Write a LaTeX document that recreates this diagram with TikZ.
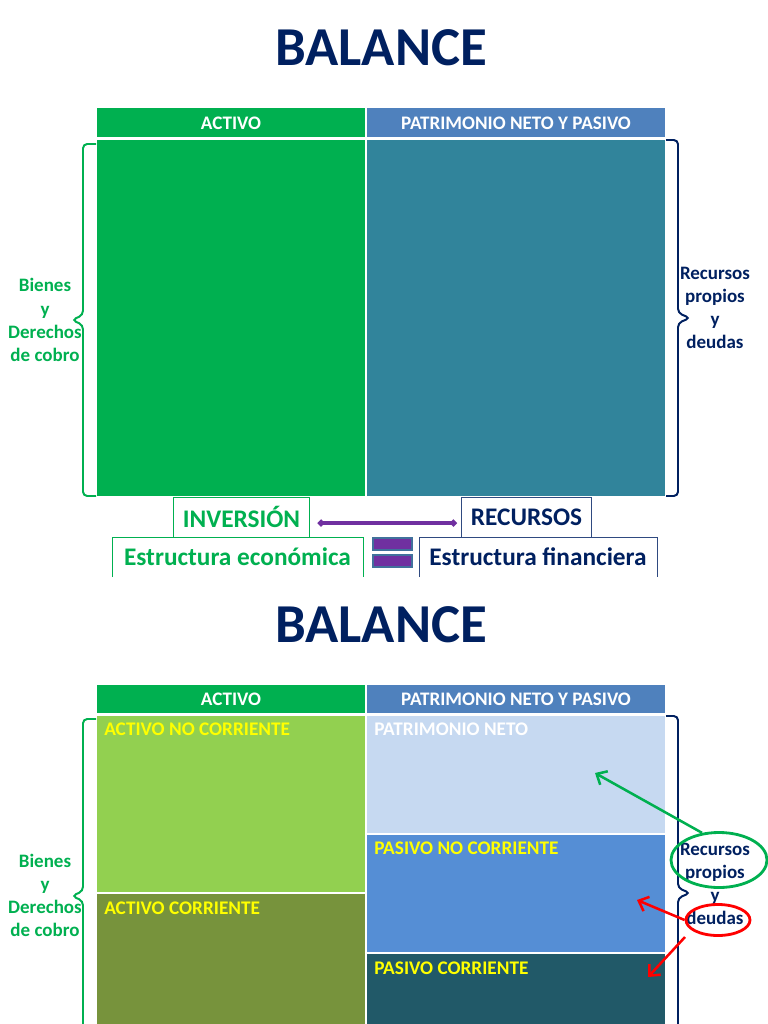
\documentclass[tikz,border=0pt]{standalone}
\usepackage{fontspec}
\setmainfont{Carlito}
\usetikzlibrary{arrows.meta,shapes.geometric}

\definecolor{verde}{HTML}{00B050}
\definecolor{azul}{HTML}{002060}
\definecolor{azulcab}{HTML}{4F81BD}
\definecolor{azulborde}{HTML}{2F4A80}
\definecolor{turquesa}{HTML}{31849B}
\definecolor{verdeclaro}{HTML}{92D050}
\definecolor{oliva}{HTML}{77933C}
\definecolor{celeste}{HTML}{C6D9F1}
\definecolor{azulmedio}{HTML}{558ED5}
\definecolor{petroleo}{HTML}{215968}
\definecolor{morado}{HTML}{7030A0}
\definecolor{bordeigual}{HTML}{41719C}
\definecolor{amarillo}{HTML}{FFFF00}
\definecolor{rojo}{HTML}{FF0000}

\tikzset{
  titulo/.style={font=\fontsize{39}{44}\selectfont\bfseries, text=azul},
  cabecera/.style={font=\fontsize{13.6}{15}\selectfont\bfseries, text=white},
  lado/.style={font=\fontsize{13.5}{16.4}\selectfont\bfseries, align=center},
  etiqueta/.style={font=\fontsize{13.7}{15}\selectfont\bfseries, anchor=west, inner sep=0pt},
  grande/.style={font=\fontsize{18}{21}\selectfont\bfseries},
  caja/.style={grande, fill=white, line width=0.7pt, minimum height=1cm, inner sep=0pt},
  llave/.style={line width=1.4pt, rounded corners=3pt},
  enlace/.style={morado, line width=2.4pt, {Circle[length=4.5pt]}-{Circle[length=4.5pt]}},
  flecha/.style={line width=1.8pt, -{Straight Barb[length=6pt,width=11pt]}},
  aro/.style={ellipse, line width=2pt, inner sep=0pt}
}

\begin{document}
\begin{tikzpicture}[x=0.025cm,y=-0.025cm]
\useasboundingbox (0,0) rectangle (768,1024);
\clip (0,0) rectangle (768,1024);

% ---------- primer balance
\node[titulo] (tit1) at (381,48) {BALANCE};
\fill[verde] (97,108) rectangle (365,137);
\fill[azulcab] (367,108) rectangle (665,137);
\node[cabecera] (act1) at (231,123) {ACTIVO};
\node[cabecera] (pnp1) at (516,123) {PATRIMONIO NETO Y PASIVO};
\fill[verde] (97,140) rectangle (365,496);
\fill[turquesa] (367,140) rectangle (665,496);

% llaves
\draw[llave, verde] (96,144) -- (83,144) -- (83,315) -- (72,320) -- (83,325) -- (83,496) -- (96,496);
\draw[llave, azul] (666,140) -- (678,140) -- (678,313) -- (690,318) -- (678,323) -- (678,496) -- (666,496);
\node[lado, text=verde] (bien1) at (45,320) {Bienes\\y\\Derechos\\de cobro};
\node[lado, text=azul] (rec1) at (715,308) {Recursos\\propios\\y\\deudas};

% inversion = recursos
\draw[verde, line width=0.7pt, fill=white] (112,577) |- (363,537) -- (363,577);
\draw[azulborde, line width=0.7pt, fill=white] (419,577) |- (657,537) -- (657,577);
\node[caja, draw=verde, text=verde, minimum width=3.375cm] (inv) at (241.5,517) {INVERSIÓN};
\node[caja, draw=azulborde, text=azul, minimum width=3.225cm] (recu) at (526.5,517) {RECURSOS};
\node[grande, text=verde] (eco) at (237.5,557) {Estructura económica};
\node[grande, text=azul] (fin) at (538,557) {Estructura financiera};
\draw[enlace] ([shift={(6pt,-4.3pt)}]inv.east) -- ([shift={(-3.5pt,-4.3pt)}]recu.west);
\draw[fill=morado, draw=bordeigual, line width=1pt] (373,538) rectangle (412,550);
\draw[fill=morado, draw=bordeigual, line width=1pt] (373,555) rectangle (412,567);

% ---------- segundo balance
\node[titulo] (tit2) at (381,625) {BALANCE};
\fill[verde] (97,685) rectangle (365,713);
\fill[azulcab] (367,685) rectangle (665,713);
\node[cabecera] (act2) at (231,699) {ACTIVO};
\node[cabecera] (pnp2) at (516,699) {PATRIMONIO NETO Y PASIVO};
\fill[verdeclaro] (97,716) rectangle (365,892);
\fill[oliva] (97,894) rectangle (365,1030);
\fill[celeste] (367,716) rectangle (665,833);
\fill[azulmedio] (367,835) rectangle (665,952);
\fill[petroleo] (367,954) rectangle (665,1030);
\node[etiqueta, text=amarillo] (anc) at (104,729) {ACTIVO NO CORRIENTE};
\node[etiqueta, text=amarillo] (ac) at (104,908) {ACTIVO CORRIENTE};
\node[etiqueta, text=white] (pn) at (374,729) {PATRIMONIO NETO};
\node[etiqueta, text=amarillo] (pnc) at (374,848) {PASIVO NO CORRIENTE};
\node[etiqueta, text=amarillo] (pc) at (374,968) {PASIVO CORRIENTE};

\draw[llave, verde] (96,719) -- (83,719) -- (83,891) -- (72,896) -- (83,901) -- (83,1040);
\draw[llave, azul] (666,716) -- (678,716) -- (678,888) -- (690,893) -- (678,898) -- (678,1040);
\node[lado, text=verde] (bien2) at (45,895.5) {Bienes\\y\\Derechos\\de cobro};
\node[lado, text=azul] (rec2) at (715,883.5) {Recursos\\propios\\y\\deudas};

% marcas y flechas
\node[aro, draw=verde, minimum width=2.4cm, minimum height=1.375cm] (gE) at (719,860) {};
\node[aro, draw=rojo, minimum width=1.6cm, minimum height=0.775cm] (rE) at (718,920) {};
\coordinate (pnP) at (595,773);
\coordinate (pncP) at (637,900);
\coordinate (dSal) at (685,937);
\coordinate (pcP) at (648,977);
\draw[flecha, verde] (gE.122) -- (pnP);
\draw[flecha, rojo] (rE.west) -- (pncP);
\draw[flecha, rojo] (dSal) -- (pcP);
\end{tikzpicture}
\end{document}
